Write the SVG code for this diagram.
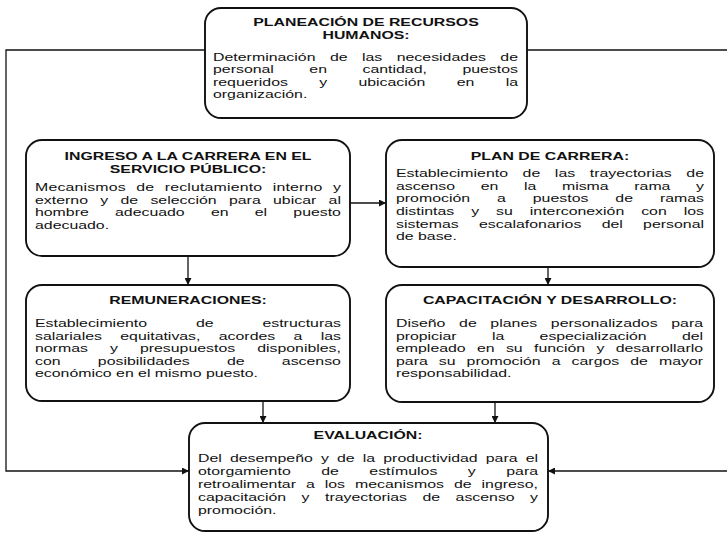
<svg xmlns="http://www.w3.org/2000/svg" width="727" height="533" viewBox="0 0 727 533">
<defs>
<style>
.box{fill:#fff;stroke:#111;stroke-width:1.9}
.ln{fill:none;stroke:#111;stroke-width:1.3}
.t{font-family:"Liberation Sans",Arial,sans-serif;font-size:11.5px;font-weight:bold;fill:#111;text-anchor:middle}
.b{font-family:"Liberation Sans",Arial,sans-serif;font-size:11.5px;fill:#111}
</style>
<marker id="ah" viewBox="0 0 10 10" refX="10" refY="5" markerWidth="8" markerHeight="7" markerUnits="userSpaceOnUse" orient="auto"><path d="M0,0 L10,5 L0,10 z" fill="#111"/></marker>
</defs>
<rect width="727" height="533" fill="#fff"/>
<g id="connectors">
<path class="ln" d="M527,50 H727"/>
<path class="ln" d="M205,50 H6 V471 H189" marker-end="url(#ah)"/>
<path class="ln" d="M727,471 H548" marker-end="url(#ah)"/>
<path class="ln" d="M350,203 H386" marker-end="url(#ah)"/>
<path class="ln" d="M188,256 V285" marker-end="url(#ah)"/>
<path class="ln" d="M548,267 V285" marker-end="url(#ah)"/>
<path class="ln" d="M263,401 V423" marker-end="url(#ah)"/>
<path class="ln" d="M495,402 V423" marker-end="url(#ah)"/>
</g>
<g id="planeacion">
<rect class="box" x="205" y="8" width="322" height="110" rx="16"/>
<g transform="translate(213,0) scale(1.38,1)">
<text class="t" x="110.9" y="26">PLANEACIÓN DE RECURSOS</text>
<text class="t" x="110.9" y="39">HUMANOS:</text>
<text class="b" x="0" y="61" word-spacing="7.2" textLength="221" lengthAdjust="spacing">Determinación de las necesidades de</text>
<text class="b" x="0" y="73.5" word-spacing="22.5" textLength="221" lengthAdjust="spacing">personal en cantidad, puestos</text>
<text class="b" x="0" y="86" word-spacing="19.5" textLength="221" lengthAdjust="spacing">requeridos y ubicación en la</text>
<text class="b" x="0" y="98.5">organización.</text>
</g>
</g>
<g id="ingreso">
<rect class="box" x="26" y="140" width="324" height="116" rx="16"/>
<g transform="translate(35,0) scale(1.38,1)">
<text class="t" x="110.9" y="160">INGRESO A LA CARRERA EN EL</text>
<text class="t" x="110.9" y="173">SERVICIO PÚBLICO:</text>
<text class="b" x="0" y="191.5" word-spacing="4.3" textLength="221.7" lengthAdjust="spacing">Mecanismos de reclutamiento interno y</text>
<text class="b" x="0" y="204" word-spacing="5.7" textLength="221.7" lengthAdjust="spacing">externo y de selección para ubicar al</text>
<text class="b" x="0" y="216.5" word-spacing="15.8" textLength="221.7" lengthAdjust="spacing">hombre adecuado en el puesto</text>
<text class="b" x="0" y="229">adecuado.</text>
</g>
</g>
<g id="plan">
<rect class="box" x="386" y="140" width="328" height="127" rx="16"/>
<g transform="translate(396,0) scale(1.38,1)">
<text class="t" x="111.6" y="160">PLAN DE CARRERA:</text>
<text class="b" x="0" y="177" word-spacing="7.4" textLength="223.2" lengthAdjust="spacing">Establecimiento de las trayectorias de</text>
<text class="b" x="0" y="189.7" word-spacing="15.4" textLength="223.2" lengthAdjust="spacing">ascenso en la misma rama y</text>
<text class="b" x="0" y="202.4" word-spacing="16.3" textLength="223.2" lengthAdjust="spacing">promoción a puestos de ramas</text>
<text class="b" x="0" y="215.1" word-spacing="9.1" textLength="223.2" lengthAdjust="spacing">distintas y su interconexión con los</text>
<text class="b" x="0" y="227.8" word-spacing="11.5" textLength="223.2" lengthAdjust="spacing">sistemas escalafonarios del personal</text>
<text class="b" x="0" y="240.5">de base.</text>
</g>
</g>
<g id="remuneraciones">
<rect class="box" x="26" y="285" width="324" height="116" rx="16"/>
<g transform="translate(35,0) scale(1.38,1)">
<text class="t" x="110.9" y="304">REMUNERACIONES:</text>
<text class="b" x="0" y="327" word-spacing="32.2" textLength="221.7" lengthAdjust="spacing">Establecimiento de estructuras</text>
<text class="b" x="0" y="339.6" word-spacing="10.1" textLength="221.7" lengthAdjust="spacing">salariales equitativas, acordes a las</text>
<text class="b" x="0" y="352.2" word-spacing="12.8" textLength="221.7" lengthAdjust="spacing">normas y presupuestos disponibles,</text>
<text class="b" x="0" y="364.8" word-spacing="23.8" textLength="221.7" lengthAdjust="spacing">con posibilidades de ascenso</text>
<text class="b" x="0" y="377.4">económico en el mismo puesto.</text>
</g>
</g>
<g id="capacitacion">
<rect class="box" x="386" y="285" width="328" height="117" rx="16"/>
<g transform="translate(396,0) scale(1.38,1)">
<text class="t" x="111.6" y="304">CAPACITACIÓN Y DESARROLLO:</text>
<text class="b" x="0" y="327" word-spacing="6.7" textLength="222.5" lengthAdjust="spacing">Diseño de planes personalizados para</text>
<text class="b" x="0" y="339.6" word-spacing="22.5" textLength="222.5" lengthAdjust="spacing">propiciar la especialización del</text>
<text class="b" x="0" y="352.2" word-spacing="5" textLength="222.5" lengthAdjust="spacing">empleado en su función y desarrollarlo</text>
<text class="b" x="0" y="364.8" word-spacing="4.8" textLength="222.5" lengthAdjust="spacing">para su promoción a cargos de mayor</text>
<text class="b" x="0" y="377.4">responsabilidad.</text>
</g>
</g>
<g id="evaluacion">
<rect class="box" x="189" y="423" width="359" height="108" rx="16"/>
<g transform="translate(198,0) scale(1.38,1)">
<text class="t" x="123.2" y="439">EVALUACIÓN:</text>
<text class="b" x="0" y="462" word-spacing="2.7" textLength="246.4" lengthAdjust="spacing">Del desempeño y de la productividad para el</text>
<text class="b" x="0" y="475" word-spacing="18.9" textLength="246.4" lengthAdjust="spacing">otorgamiento de estímulos y para</text>
<text class="b" x="0" y="488" word-spacing="4" textLength="246.4" lengthAdjust="spacing">retroalimentar a los mecanismos de ingreso,</text>
<text class="b" x="0" y="501" word-spacing="8" textLength="246.4" lengthAdjust="spacing">capacitación y trayectorias de ascenso y</text>
<text class="b" x="0" y="514">promoción.</text>
</g>
</g>
</svg>
